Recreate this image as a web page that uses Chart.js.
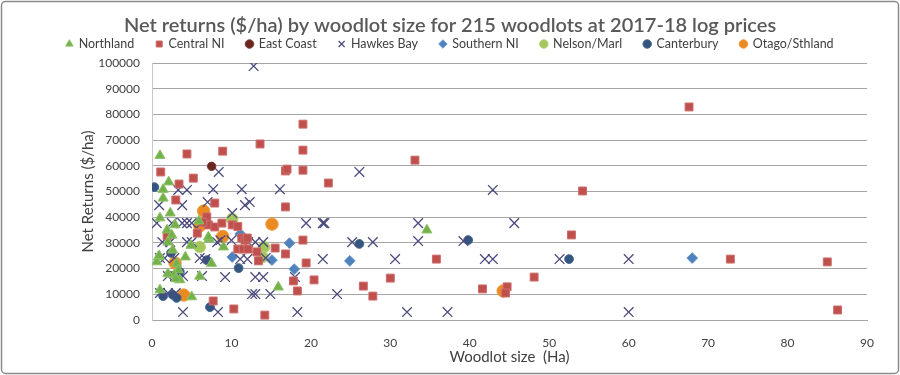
<!DOCTYPE html>
<html>
<head>
<meta charset="utf-8">
<script src="https://cdn.jsdelivr.net/npm/chart.js@4/dist/chart.umd.min.js"></script>
<style>
  html, body { margin: 0; padding: 0; background: #ffffff; }
  #wrap { width: 900px; height: 375px; position: relative; }
</style>
</head>
<body>
<div id="wrap"><canvas id="c" width="900" height="375"></canvas></div>
<script>
// ---- Data (Woodlot size in Ha, Net returns $/ha) ----
const seriesNames = ['Northland', 'Central NI', 'East Coast', 'Hawkes Bay', 'Southern NI', 'Nelson/Marl', 'Canterbury', 'Otago/Sthland'];
const xTickValues = [0, 10, 20, 30, 40, 50, 60, 70, 80, 90];
const yTickValues = [0, 10000, 20000, 30000, 40000, 50000, 60000, 70000, 80000, 90000, 100000];

const northlandX = [1.0, 2.1, 1.4, 1.4, 2.3, 1.0, 2.9, 1.9, 2.5, 2.0, 2.6, 0.8, 0.6, 4.2, 3.1, 3.3, 3.5, 1.0, 5.0, 5.9, 7.2, 6.0, 7.5, 9.0, 15.9, 34.6, 2.8, 3.0, 0.9, 2.0, 4.9, 7.1];
const northlandY = [64000, 53700, 50800, 47400, 41600, 39700, 37000, 35000, 33000, 30300, 27200, 24500, 22600, 24500, 22000, 19500, 15600, 11700, 9000, 38500, 31500, 17000, 22000, 28400, 12800, 35000, 17500, 16000, 25000, 18000, 29000, 32300];

const centralX = [1.1, 4.4, 5.2, 3.4, 3.0, 7.9, 2.0, 6.9, 5.7, 7.7, 8.9, 7.1, 7.9, 8.8, 10.1, 10.8, 11.3, 11.7, 10.8, 11.5, 12.1, 13.2, 13.4, 15.5, 16.8, 19.0, 19.4, 17.8, 20.4, 18.3, 10.3, 14.2, 19.0, 13.6, 19.0, 16.8, 17.0, 19.0, 22.2, 16.8, 26.6, 27.8, 30.0, 33.1, 54.2, 52.8, 35.8, 48.1, 41.6, 44.7, 44.5, 67.6, 72.8, 85.0, 86.3, 1.9, 12.0, 6.4];
const centralY = [57600, 64600, 55200, 52900, 46700, 45500, 33100, 40100, 33800, 7400, 65700, 37000, 36200, 37700, 37000, 36400, 31900, 31100, 27600, 27600, 27600, 26500, 23000, 28000, 25700, 31100, 22200, 15200, 15600, 11300, 4300, 1900, 76200, 68500, 66100, 58000, 58700, 58300, 53300, 44000, 13200, 9300, 16300, 62200, 50200, 33100, 23700, 16700, 12100, 12900, 10500, 82900, 23700, 22600, 3900, 32700, 31900, 38000];

const eastCoastX = [7.5];
const eastCoastY = [59800];

const hawkesX = [12.8, 8.4, 26.1, 7.7, 11.3, 16.1, 11.7, 12.3, 10.1, 19.4, 21.5, 21.7, 8.2, 12.1, 13.0, 14.0, 25.2, 27.8, 6.7, 11.1, 12.0, 21.5, 30.6, 9.2, 13.0, 14.0, 18.0, 12.6, 13.0, 14.9, 23.3, 8.3, 18.3, 42.9, 33.5, 45.6, 33.5, 39.2, 41.9, 42.9, 51.3, 60.0, 32.1, 37.2, 60.0, 3.3, 4.4, 0.9, 3.8, 0.6, 2.5, 3.8, 4.4, 5.0, 1.3, 2.3, 4.4, 1.0, 6.0, 2.0, 2.9, 3.9, 6.3, 1.0, 3.9, 7.0, 6.2, 8.6, 2.0, 3.0, 1.6, 2.8, 14.3, 5.0, 10.0];
const hawkesY = [98800, 57600, 57600, 50900, 50900, 50900, 44700, 45900, 41600, 37700, 37700, 37700, 30300, 30300, 30300, 30300, 30300, 30300, 23700, 23700, 23700, 23700, 23700, 16700, 16700, 16700, 16700, 10100, 10100, 10100, 10100, 3100, 3100, 50600, 37700, 37700, 30700, 30700, 23700, 23700, 23700, 23700, 3100, 3100, 3100, 50600, 50600, 44700, 44700, 37700, 37700, 37700, 37700, 37700, 30300, 30300, 30300, 24100, 24100, 17100, 17100, 17100, 17100, 10500, 3100, 45900, 37700, 31000, 10500, 10500, 24100, 24100, 24100, 30300, 31000];

const southernX = [11.1, 17.3, 10.1, 15.1, 17.9, 24.9, 68.0];
const southernY = [33500, 29900, 24500, 23300, 19800, 23000, 24100];

const nelsonX = [10.1, 6.0, 14.1, 13.9];
const nelsonY = [39300, 28400, 28400, 24500];

const canterburyX = [0.3, 2.4, 3.5, 1.4, 2.6, 3.1, 7.3, 6.9, 10.9, 39.8, 52.5, 26.1];
const canterburyY = [51700, 26100, 18700, 9300, 9800, 8600, 5000, 23300, 20200, 31100, 23700, 29600];

const otagoX = [6.5, 6.0, 2.9, 4.0, 8.9, 15.1, 44.2];
const otagoY = [42400, 36600, 22200, 9700, 32500, 37300, 11300];

function pairs(xs, ys) { return xs.map((x, i) => ({ x: x, y: ys[i] })); }

const FONT = 'Lato, "Open Sans", "Liberation Sans", sans-serif';
const SIDE = 33;
const PLOT_LEFT = 152, PLOT_BOTTOM = 320;

const frame = {
  id: 'frame',
  beforeDraw(chart) {
    const ctx = chart.ctx;
    ctx.save();
    ctx.fillStyle = '#ffffff';
    ctx.fillRect(0, 0, chart.width, chart.height);
    ctx.restore();
  },
  afterDraw(chart) {
    const ctx = chart.ctx;
    ctx.save();
    ctx.strokeStyle = '#8a8a8a';
    ctx.lineWidth = 1.5;
    ctx.beginPath();
    if (ctx.roundRect) ctx.roundRect(1.5, 1.5, chart.width - 3, chart.height - 3, 4);
    else ctx.rect(1.5, 1.5, chart.width - 3, chart.height - 3);
    ctx.stroke();
    ctx.restore();
  }
};

function ds(label, xs, ys, style, color, border, radius, bw) {
  return {
    label: label,
    data: pairs(xs, ys),
    pointStyle: style,
    backgroundColor: color,
    borderColor: border,
    pointRadius: radius,
    pointHoverRadius: radius,
    pointBorderWidth: bw,
    borderWidth: bw
  };
}

const datasets = [
  ds(seriesNames[0], northlandX, northlandY, 'triangle', '#74b04c', '#8cc264', 5.8, 1),
  ds(seriesNames[1], centralX, centralY, 'rect', '#c0504d', '#cc6e6b', 5.6, 1),
  ds(seriesNames[2], eastCoastX, eastCoastY, 'circle', '#6b2620', '#7f3a33', 4.2, 1),
  ds(seriesNames[3], hawkesX, hawkesY, 'crossRot', '#4a4a7c', '#4a4a7c', 6.8, 1.3),
  ds(seriesNames[4], southernX, southernY, 'rectRot', '#4f81bd', '#6a96cb', 5.4, 1),
  ds(seriesNames[5], nelsonX, nelsonY, 'circle', '#a4c65a', '#b6d47a', 5.8, 1),
  ds(seriesNames[6], canterburyX, canterburyY, 'circle', '#33557f', '#46688f', 4.4, 1),
  ds(seriesNames[7], otagoX, otagoY, 'circle', '#ec8a22', '#f29c42', 6.2, 1)
];

new Chart(document.getElementById('c'), {
  type: 'scatter',
  data: { datasets: datasets },
  plugins: [frame],
  options: {
    responsive: false,
    animation: false,
    events: [],
    layout: { padding: { left: SIDE, right: SIDE, top: 0, bottom: 0 } },
    plugins: {
      title: {
        display: true,
        text: 'Net returns ($/ha) by woodlot size for 215 woodlots at 2017-18 log prices',
        color: '#595959',
        font: { family: FONT, size: 20, weight: '600' },
        padding: { top: 14, bottom: -22.25 }
      },
      legend: {
        display: true,
        position: 'top',
        labels: {
          usePointStyle: true,
          boxWidth: 6,
          boxHeight: 6,
          padding: 22,
          color: '#404040',
          font: { family: FONT, size: 12.5 }
        }
      },
      tooltip: { enabled: false }
    },
    scales: {
      x: {
        type: 'linear',
        min: 0, max: 90,
        afterBuildTicks(scale) { scale.ticks = xTickValues.map(v => ({ value: v })); },
        afterFit(scale) { scale.height = 375 - PLOT_BOTTOM; },
        grid: { display: false, drawTicks: false },
        border: { display: true, color: '#a6a6a6', width: 1 },
        ticks: { color: '#404040', font: { family: FONT, size: 12 }, padding: 16, maxRotation: 0 },
        title: {
          display: true, text: 'Woodlot size  (Ha)', color: '#404040',
          font: { family: FONT, size: 15 }, padding: { top: 0, bottom: 9 }
        }
      },
      xTop: {
        type: 'linear',
        position: 'top',
        min: 0, max: 90,
        afterFit(scale) { scale.height = 2.75; },
        grid: { display: false, drawTicks: false },
        border: { display: false },
        ticks: { display: false }
      },
      y: {
        type: 'linear',
        min: 0, max: 100000,
        afterBuildTicks(scale) { scale.ticks = yTickValues.map(v => ({ value: v })); },
        afterFit(scale) { scale.width = PLOT_LEFT - SIDE; },
        grid: { display: true, color: '#a6a6a6', lineWidth: 1, drawTicks: false },
        border: { display: true, color: '#c8c8c8', width: 1 },
        ticks: { color: '#404040', font: { family: FONT, size: 12 }, padding: 12,
          callback: v => String(v) },
        title: {
          display: true, text: 'Net Returns ($/ha)', color: '#404040',
          font: { family: FONT, size: 15 }, padding: { top: 79 - SIDE, bottom: 0 }
        }
      }
    }
  }
});
</script>
</body>
</html>
